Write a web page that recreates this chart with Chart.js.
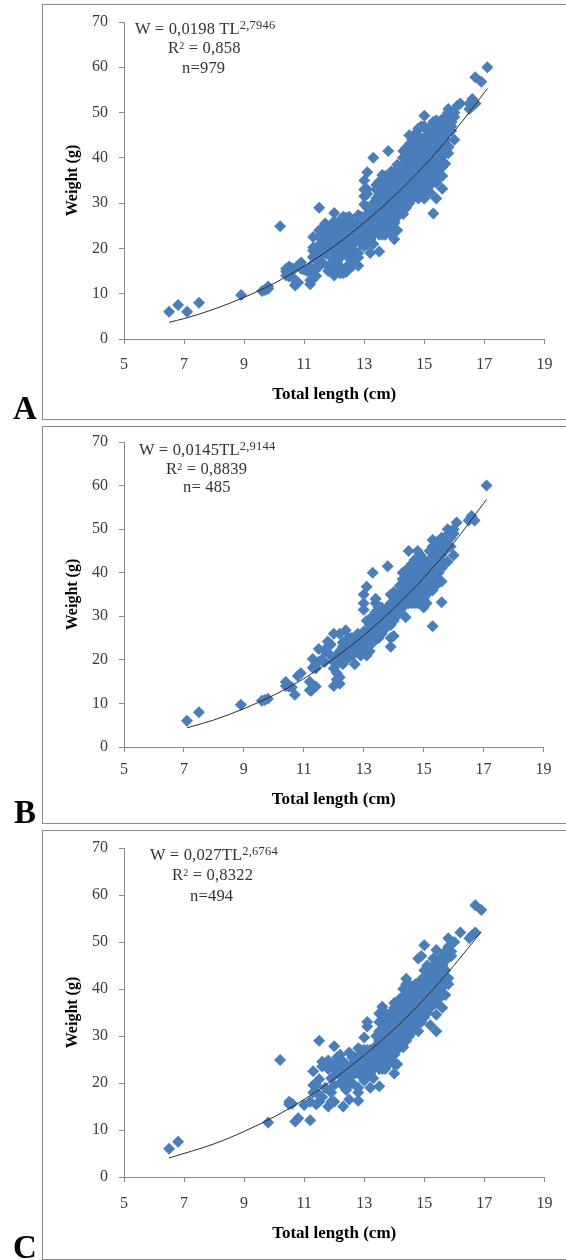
<!DOCTYPE html>
<html><head><meta charset="utf-8">
<script src="https://cdn.jsdelivr.net/npm/chart.js@4"></script>
<style>
html,body{margin:0;padding:0;background:#fff;width:566px;height:1260px;overflow:hidden}
#root{position:absolute;left:0;top:0;width:566px;height:1260px;overflow:hidden;filter:blur(.35px)}
.frame{position:absolute;left:42px;width:600px;border:1.5px solid #8b8b8b;box-sizing:border-box}
canvas{position:absolute;left:0}
.t{position:absolute;font-family:"Liberation Serif",serif;color:#333;white-space:nowrap;font-size:16.5px;line-height:18px;letter-spacing:.2px}
.t sup{font-size:12.5px;line-height:0;vertical-align:5px}
.t sup.m{font-size:10px;vertical-align:4px}
.l{position:absolute;font-family:"Liberation Serif",serif;font-weight:bold;font-size:33px;line-height:33px;color:#000}
</style></head><body>
<div id="root"></div>
<script>
// tick values
const xTicks = [5,7,9,11,13,15,17,19];
const yTicks = [0,10,20,30,40,50,60,70];

// Panel B: scattered points
const sparseB = [[7.1,6],[7.5,8],[8.9,9.7],[9.6,10.6],[9.7,10.8],[9.8,11.1],[10.4,14.9],[10.4,14],[10.5,13.8],[10.6,13.7],[10.7,12],[10.8,16.3],[10.9,16.9],[11.2,15],[11.2,13],[11.25,12.9],[11.4,13.9],[11.3,20.2],[11.3,18.2],[11.4,19],[11.5,22.5],[11.6,20.1],[11.8,24.2],[11.8,23],[11.9,21],[12,26],[12,14],[12,18],[12.1,17],[12.1,19],[12.2,14.5],[12.2,16],[12.2,26],[12.4,26.8],[12.3,24],[12.4,20],[12.5,25],[12.5,22],[12.6,21],[12.7,19],[12.7,25],[12.8,26],[12.9,23],[13,22],[13,26.5],[13.1,21],[13.1,24],[13.1,29],[13,31.5],[13,33],[13,35],[13.1,36.8],[13.3,40],[13.8,41.5],[13.9,23],[14,25.5],[13.9,25],[15.3,27.7],[14.4,29.8],[15.6,33.2],[16,44],[16.1,51.5],[16.5,52],[16.6,53],[16.7,52],[17.1,60],
 [12.1,21],[12.2,22],[12.3,23],[12.4,24.5],[12.5,23.5],[12.6,23],[12.6,25],[12.7,23],[12.7,21.5],[12.8,24],[12.8,22],[12.9,25],[12.9,21],[13,24],[13.1,26],[13.2,22],[13.3,24],[12.2,20],[12.3,19],[12.3,21],[12.5,20.5],[11.9,23.5],[11.7,22],[11.7,19.5],[11.5,19.5],[11.4,18],[12,19.5],[12,20.5],[12.1,15.5],[12.4,22.5]];
// Panel B: dense band, one row per length with the weights seen there
const bandB = [[13.2,[25,27,28]],[13.3,[24,26,28,30]],[13.4,[25,27,29,31,33,34]],[13.5,[25,27,30,32]],[13.6,[26,28,30,32]],[13.7,[27,29,31]],[13.8,[28,30,32]],[13.9,[28,30,33,35]],[14,[29,31,33,35.5]],[14.1,[30,32,34,35]],[14.2,[31,33,35,37]],[14.3,[32,34,36,38.5,40]],[14.4,[33,35,37,39,40.5]],[14.5,[33,35,37,39,41,45]],[14.6,[33,35,37,39,41,42]],[14.7,[33,35,38,40,42,43]],[14.8,[33,35,37,39,41,43,45]],[14.9,[34,36,38,41,42,44]],[15,[32,34,36,38,40,42,43]],[15.1,[33,35,37,39,41]],[15.2,[36,38,40,43,45]],[15.3,[36,39,41,43,46,47.5]],[15.4,[37,39,42,44,46,47]],[15.5,[38,40,43,45,47]],[15.6,[38,41,44,46,48]],[15.7,[42,45,47,48]],[15.8,[42.5,46,50]],[15.9,[46,48,49.5]],[16,[49,50]]];

// Panel C: scattered points
const sparseC = [[6.5,6],[6.8,7.5],[9.8,11.6],[10.2,24.9],[10.5,16],[10.5,15.5],[10.6,15.6],[10.7,11.8],[10.8,12.5],[11,15.3],[11.2,12.1],[11.2,16],[11.3,22.5],[11.3,19.5],[11.3,18],[11.4,15.5],[11.5,29],[11.5,20.8],[11.5,16],[11.6,24.5],[11.6,23.5],[11.6,17],[11.7,24],[11.8,23],[11.8,15],[11.9,18],[12,27.8],[12,16],[12,24],[12.1,25.5],[12.1,22],[12.2,25],[12.2,23],[12.3,15],[12.3,21],[12.4,19],[12.4,24],[12.5,26.5],[12.5,16.5],[12.4,20],[12.6,25.5],[12.6,22],[12.7,24],[12.8,27.4],[12.8,18],[12.8,19],[12.8,16.2],[12.9,26],[12.9,21.5],[13,29.7],[13,25],[13,23],[13,20.5],[13.1,27],[13.1,33],[13.1,32],[13.2,19],[13.2,24],[13.2,26],[13.5,19.3],[13.5,34.8],[13.6,36.2],[14.8,46.5],[14.9,47],[15,49.3],[15.4,48.3],[15.2,32.3],[15.4,31],[16,50],[16.2,52],[16.5,50.8],[16.6,51.5],[16.7,52],[16.7,57.8],[16.9,56.8],
 [11.8,24.8],[11.9,21],[12,23],[12.1,24],[12.2,26],[12.3,24.5],[12.4,22],[12.5,23],[12.5,21.5],[12.6,24],[12.6,20],[12.7,22],[12.7,25.5],[12.8,23],[12.8,25],[12.9,24],[12.9,27],[13,24],[13,27],[13.1,22],[13.1,25],[13.2,22],[13.2,27],[13.3,21],[11.4,18],[11.5,17.5],[11.7,19],[11.9,16],[12,19.5],[12.2,20],[12.3,19.5],[12.4,18.5],[11.4,19.5]];
// Panel C: dense band, one row per length with the weights seen there
const bandC = [[13.3,[23,25,27]],[13.4,[24,26,28,30]],[13.5,[23,25,27,29,31,33]],[13.6,[23,25,27,29,31,33]],[13.7,[23,25,27,29,31,33,35]],[13.8,[24,26,28,30,32,34]],[13.9,[25,27,29,31,33,35]],[14,[22,24,26,28,30,32,34,36,37]],[14.1,[24,27,29,31,33,35,37]],[14.2,[28,30,32,34,36,38]],[14.3,[27.6,30,32,34,36,38,40]],[14.4,[29,31,33,35,37,39,41,42.2]],[14.5,[30,32,34,36,38,40,41]],[14.6,[31,33,35,37,39]],[14.7,[31.5,33,35,37,39,41]],[14.8,[31,33,35,37,39,41]],[14.9,[33,35,37,39,41,42]],[15,[34,36,38,40,42,44]],[15.1,[35,37,39,41,43,45]],[15.2,[36,38,40,42,44]],[15.3,[37,39,41,43,45,46.5]],[15.4,[34.5,37,39,41,43,45]],[15.5,[38,40,42,44,46]],[15.6,[36,39,41,43,45,47]],[15.7,[38.7,41,44,46,48]],[15.8,[41,42.3,47,49,50.8]],[15.9,[47,48]]];

// Panel A: further points seen only in the pooled panel
const extraA = [[11.9,15],[12.1,15],[12.2,15.5],[12.4,14.8],[12.3,14.5],[11.8,16],[12.6,16],[12.7,18],[12.5,18],[12.2,18],[12.6,18.5],[11.6,19],[11.7,21],[11.9,20],[11.5,24],[11.7,25.5],[12,25],[12.3,27],[12.5,27],[12,22],[12.3,22],[11.4,17.5],[10.9,15.5],[11.1,15],[11.3,14.5],[10.6,15],[10.4,15.5],[14.5,43],[14.7,45.3],[15,47],[15.1,46],[15.3,48],[15.4,47.5],[15.5,48],[15.6,48.5],[15.7,49],[15.8,50],[15.2,46],[14.6,44],[14.3,41.5],[14.1,38.5],[13.9,37],[13.7,36],[15.5,36],[15.4,35],[15.1,33],[14.9,31.5],[15,31],[15.2,34],[15.3,35]];

// Fitted curves read at whole lengths
const curveA = [[6.5,3.7],[7,4.5],[8,6.6],[9,9.2],[10,12.3],[11,16.1],[12,20.5],[13,25.7],[14,31.6],[15,38.3],[16,45.9],[17,54.4],[17.1,55.3]];
const curveB = [[7.1,4.4],[8,6.2],[9,8.8],[10,11.9],[11,15.7],[12,20.3],[13,25.6],[14,31.8],[15,38.8],[16,46.8],[17,55.9],[17.1,56.8]];
const curveC = [[6.5,4.05],[8,7.05],[9,9.7],[10,12.8],[11,16.5],[12,20.9],[13,25.9],[14,31.5],[15,37.9],[16,45.1],[16.9,52.2]];

const xTitle = 'Total length (cm)';
const yTitle = 'Weight (g)';

const toXY = p => ({x:p[0],y:p[1]});
const unroll = band => band.flatMap(([x,ys]) => ys.map(y => ({x,y})));
const groupB = sparseB.map(toXY).concat(unroll(bandB));
const groupC = sparseC.map(toXY).concat(unroll(bandC));
const groupA = groupB.concat(groupC, extraA.map(toXY)); // A pools the samples of B and C

const panels = [
 {letter:'A',points:groupA,curve:curveA,frameTop:4,frameBottom:419,plotTop:22,plotBottom:339,right:544.4,letterTop:392,letterLeft:13,box:65.5,tickPad:11,
  text:[{h:'W = 0,0198 TL<sup>2,7946</sup>',x:135,y:20},{h:'R<sup class="m">2</sup> = 0,858',x:168,y:39},{h:'n=979',x:182,y:59}]},
 {letter:'B',points:groupB,curve:curveB,frameTop:426,frameBottom:823,plotTop:442,plotBottom:747,right:543.5,letterTop:796,letterLeft:14,box:62.5,tickPad:8.5,
  text:[{h:'W = 0,0145TL<sup>2,9144</sup>',x:139,y:441},{h:'R<sup class="m">2</sup> = 0,8839',x:166,y:460},{h:'n= 485',x:183,y:478}]},
 {letter:'C',points:groupC,curve:curveC,frameTop:830,frameBottom:1259,plotTop:848,plotBottom:1177,right:544.4,letterTop:1231,letterLeft:13,box:67,tickPad:12,
  text:[{h:'W = 0,027TL<sup>2,6764</sup>',x:150,y:846},{h:'R<sup class="m">2</sup> = 0,8322',x:172,y:866},{h:'n=494',x:190,y:887}]}
];

const root = document.getElementById('root');
const serif = '"Liberation Serif", serif';
panels.forEach(p => {
  const f = document.createElement('div');
  f.className='frame'; f.style.top=p.frameTop+'px'; f.style.height=(p.frameBottom-p.frameTop+1)+'px';
  root.appendChild(f);
  const cv = document.createElement('canvas');
  const cTop = p.frameTop, cH = p.frameBottom-p.frameTop;
  cv.style.top=cTop+'px'; cv.style.width='566px'; cv.style.height=cH+'px';
  cv.width=566; cv.height=cH;
  root.appendChild(cv);
  const bottomBox = p.box;
  new Chart(cv,{
    type:'scatter',
    data:{datasets:[
      {type:'scatter',data:p.curve.map(toXY),showLine:true,pointRadius:0,borderColor:'#2b2b2b',borderWidth:1,cubicInterpolationMode:'monotone',order:0},
      {type:'scatter',data:p.points,showLine:false,pointStyle:'rectRot',pointRadius:6,pointBorderWidth:0,backgroundColor:'#4a7ebb',order:1}
    ]},
    options:{
      responsive:false,animation:false,
      layout:{autoPadding:false,padding:{left:63,right:566-p.right,top:p.plotTop-cTop,bottom:cH-(p.plotBottom-cTop)-bottomBox}},
      plugins:{legend:{display:false},tooltip:{enabled:false}},
      scales:{
        x:{type:'linear',min:xTicks[0],max:xTicks[xTicks.length-1],
          afterBuildTicks:s=>{s.ticks=xTicks.map(v=>({value:v}));},
          afterFit:s=>{s.height=bottomBox;},
          grid:{drawOnChartArea:false,drawTicks:true,tickLength:5,color:'#8b8b8b'},
          border:{color:'#8b8b8b',width:1},
          ticks:{font:{family:serif,size:16},color:'#3a3a3a',padding:p.tickPad,maxRotation:0,autoSkip:false},
          title:{display:true,text:xTitle,font:{family:serif,size:17,weight:'bold'},color:'#000',padding:{top:0,bottom:0}}},
        y:{type:'linear',min:yTicks[0],max:yTicks[yTicks.length-1],
          afterBuildTicks:s=>{s.ticks=yTicks.map(v=>({value:v}));},
          afterFit:s=>{s.width=61;s.paddingTop=0;s.paddingBottom=0;},
          grid:{drawOnChartArea:false,drawTicks:true,tickLength:5,color:'#8b8b8b'},
          border:{color:'#8b8b8b',width:1},
          ticks:{font:{family:serif,size:16},color:'#3a3a3a',padding:11},
          title:{display:true,text:yTitle,font:{family:serif,size:16,weight:'bold'},color:'#000',padding:{top:0,bottom:0}}}
      }
    }
  });
  p.text.forEach(t=>{
    const d=document.createElement('div'); d.className='t'; d.innerHTML=t.h;
    d.style.left=t.x+'px'; d.style.top=t.y+'px'; root.appendChild(d);
  });
  const l=document.createElement('div'); l.className='l'; l.textContent=p.letter;
  l.style.left=p.letterLeft+'px'; l.style.top=p.letterTop+'px'; root.appendChild(l);
});
</script>
</body></html>
